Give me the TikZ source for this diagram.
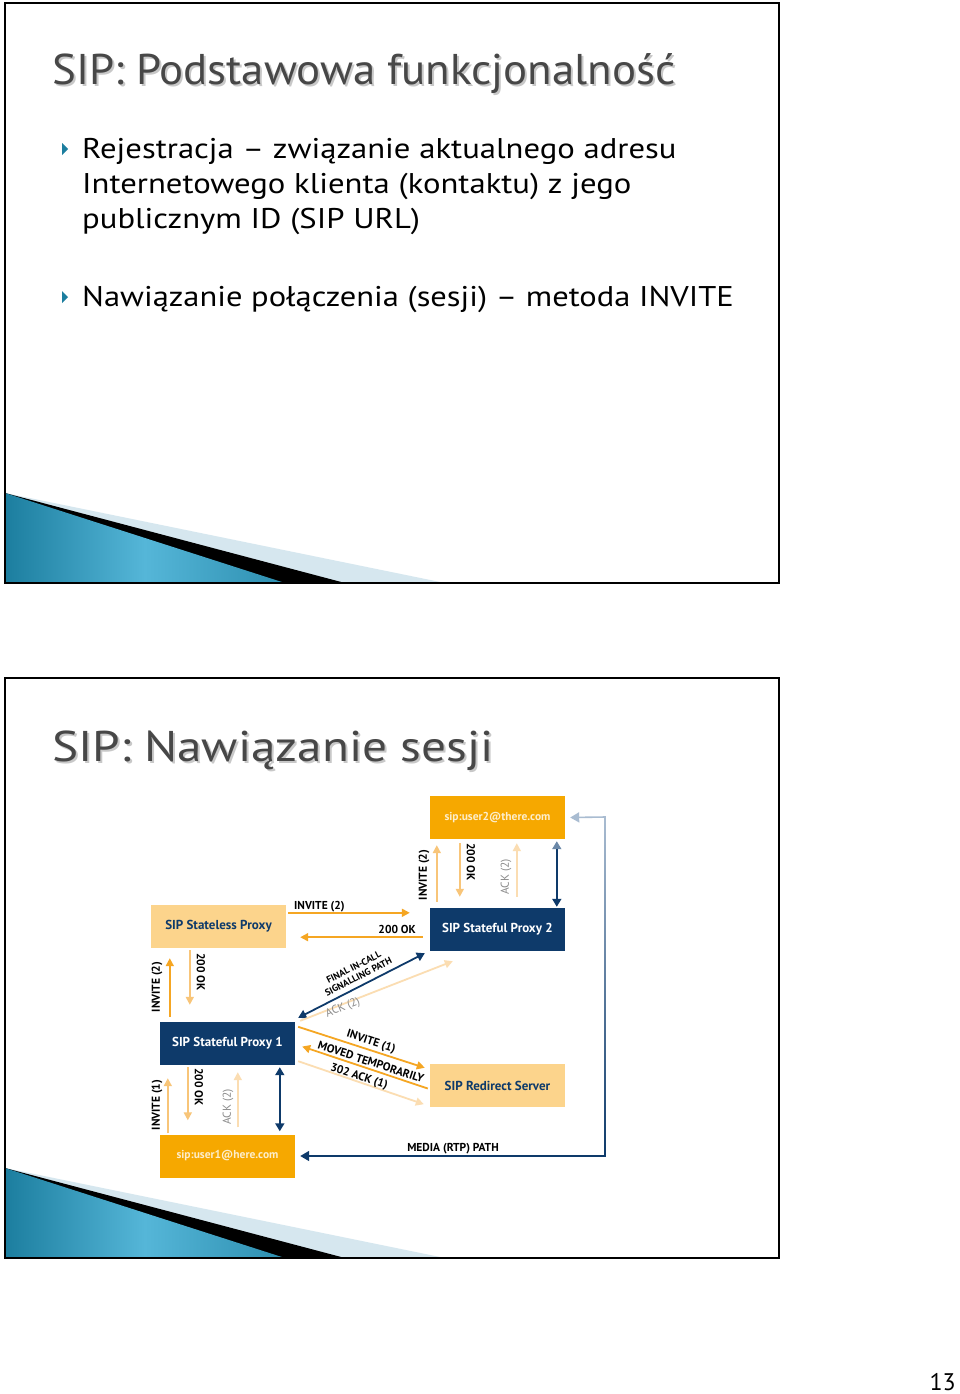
\documentclass[tikz,border=0pt]{standalone}
\usepackage{fontspec}
\setmainfont{PT Sans}
\usetikzlibrary{arrows.meta,positioning,calc}

\definecolor{sipnavy}{HTML}{0E3A6A}
\definecolor{siporange}{HTML}{F6A800}
\definecolor{siplight}{HTML}{FCD48C}
\definecolor{sipline}{HTML}{F5A623}
\definecolor{sipmid}{HTML}{F8C579}
\definecolor{sippale}{HTML}{FBDDB2}
\definecolor{titlegrey}{HTML}{474747}
\definecolor{shadowgrey}{HTML}{C8C8C8}
\definecolor{slideteal}{HTML}{1C7E9F}
\definecolor{slidelight}{HTML}{55B6D8}
\definecolor{slidepale}{HTML}{D6E7EF}
\definecolor{mediapale}{HTML}{A9BCD1}
\definecolor{labelgrey}{HTML}{8A8A8A}

\tikzset{
  x=1pt, y=-1pt,
  slideframe/.style={draw=black, line width=2.2pt},
  slidetitle/.style={anchor=base west, inner sep=0pt, font=\fontsize{43}{43}\selectfont, text=titlegrey},
  titleshadow/.style={slidetitle, text=shadowgrey},
  bodyline/.style={anchor=base west, inner sep=0pt, font=\fontsize{28.5}{35}\selectfont},
  sipbox/.style={minimum width=135pt, minimum height=43pt, inner sep=0pt, font=\bfseries\fontsize{13}{14}\selectfont},
  navybox/.style={sipbox, fill=sipnavy, text=white},
  userbox/.style={sipbox, fill=siporange, text=white!80!siporange, font=\bfseries\fontsize{11.5}{13}\selectfont},
  serverbox/.style={sipbox, fill=siplight, text=sipnavy},
  msg/.style={draw=sipline, line width=1.8pt, -{Triangle[length=8pt,width=8pt]}},
  msglight/.style={msg, draw=sipmid},
  msgpale/.style={msg, draw=sippale},
  navylink/.style={draw=sipnavy, line width=1.8pt, {Triangle[length=8pt,width=9pt]}-{Triangle[length=8pt,width=9pt]}},
  lbl/.style={inner sep=0pt, font=\bfseries\fontsize{11.5}{12}\selectfont},
  lblgrey/.style={inner sep=0pt, font=\fontsize{11.5}{12}\selectfont, text=labelgrey}
}

\newcommand{\slidecorner}[1]{%
  \fill[slidepale] (5,#1) -- (445,#1+90) -- (5,#1+90) -- cycle;
  \fill[black] (5,#1) -- (345,#1+90) -- (5,#1+90) -- cycle;
  \shade[left color=slideteal, right color=slideteal!70!slidelight, middle color=slidelight]
    (5,#1) -- (285,#1+90) -- (5,#1+90) -- cycle;
}
\newcommand{\wide}[2]{\scalebox{#1}[1]{#2}}

\begin{document}
\begin{tikzpicture}
\useasboundingbox (0,0) rectangle (960,1394);
\fill[white] (0,0) rectangle (960,1394);

% slide 1
\slidecorner{493}
\draw[slideframe] (5,3) rectangle (779,583);
\node[titleshadow] (title1s) at (54,87) {\wide{1.044}{SIP: Podstawowa funkcjonalność}};
\node[slidetitle] (title1) at (52,85) {\wide{1.044}{SIP: Podstawowa funkcjonalność}};
\fill[slideteal] (62,143) -- (68,149) -- (62,155) -- cycle;
\node[bodyline] (reg1) at (82,158) {\wide{1.147}{Rejestracja – związanie aktualnego adresu}};
\node[bodyline] (reg2) at (82,193) {\wide{1.147}{Internetowego klienta (kontaktu) z jego}};
\node[bodyline] (reg3) at (82,228) {\wide{1.147}{publicznym ID (SIP URL)}};
\fill[slideteal] (62,291) -- (68,297) -- (62,303) -- cycle;
\node[bodyline] (inv) at (82,306) {\wide{1.14}{Nawiązanie połączenia (sesji) – metoda INVITE}};

% slide 2
\slidecorner{1168}
\draw[slideframe] (5,678) rectangle (779,1258);
\node[titleshadow] (title2s) at (54,763) {\wide{1.146}{SIP: Nawiązanie sesji}};
\node[slidetitle] (title2) at (52,761) {\wide{1.146}{SIP: Nawiązanie sesji}};

% boxes
\node[userbox] (user2) at (497.5,817.5) {sip:user2@there.com};
\node[serverbox] (stateless) at (218.5,926.5) {SIP Stateless Proxy};
\node[navybox] (sp2) at (497.5,929.5) {SIP Stateful Proxy 2};
\node[navybox] (sp1) at (227.5,1043.5) {SIP Stateful Proxy 1};
\node[serverbox] (redirect) at (497.5,1085.5) {SIP Redirect Server};
\node[userbox] (user1) at (227.5,1156) {sip:user1@here.com};

% stateless <-> proxy 2
\draw[msg] ([shift={(2,8)}]stateless.north east) -- ([shift={(-20,5)}]sp2.north west);
\node[lbl, anchor=south west] (inv2a) at (294,912) {INVITE (2)};
\draw[msg] ([shift={(-7,-14)}]sp2.south west) -- ([shift={(14,-11)}]stateless.south east);
\node[lbl, anchor=south east] (ok2a) at (416,934) {200 OK};

% proxy 2 <-> user2
\draw[msglight] ([shift={(7,-6)}]sp2.north west) -- ([shift={(7,6)}]user2.south west);
\node[lbl, rotate=90] (inv2b) at (424,875) {INVITE (2)};
\draw[msglight] ([shift={(30,4)}]user2.south west) -- ([shift={(30,-11)}]sp2.north west);
\node[lbl, rotate=-90] (ok2b) at (471,862) {200 OK};
\draw[msgpale] ([shift={(87,-11)}]sp2.north west) -- ([shift={(87,4)}]user2.south west);
\node[lblgrey, rotate=90] (ack2b) at (506,877) {ACK (2)};
\draw[navylink, {Triangle[length=8pt,width=9pt,color=mediapale!60!sipnavy]}-{Triangle[length=8pt,width=9pt]}]
  ([shift={(127,2)}]user2.south west) -- ([shift={(127,-1)}]sp2.north west);

% stateless <-> proxy 1
\draw[msg] ([shift={(10,-5)}]sp1.north west) -- ([shift={(19,10)}]stateless.south west);
\node[lbl, rotate=90] (inv2c) at (157,987) {INVITE (2)};
\draw[msglight] ([shift={(39,2)}]stateless.south west) -- ([shift={(30,-17)}]sp1.north west);
\node[lbl, rotate=-90] (ok2c) at (201,972) {200 OK};

% proxy 1 <-> user1
\draw[msglight] ([shift={(8,-1)}]user1.north west) -- ([shift={(8,13)}]sp1.south west);
\node[lbl, rotate=90] (inv1) at (157,1105) {INVITE (1)};
\draw[msglight] ([shift={(28,2)}]sp1.south west) -- ([shift={(28,-14)}]user1.north west);
\node[lbl, rotate=-90] (ok1) at (199,1087) {200 OK};
\draw[msgpale] ([shift={(78,-7)}]user1.north west) -- ([shift={(78,7)}]sp1.south west);
\node[lblgrey, rotate=90] (ack2c) at (228,1107) {ACK (2)};
\draw[navylink] ([shift={(120,2)}]sp1.south west) -- ([shift={(120,-3)}]user1.north west);

% proxy 1 <-> proxy 2
\draw[navylink] ([shift={(3,-4)}]sp1.north east) -- ([shift={(-5,2)}]sp2.south west);
\node[lbl, rotate=27, align=center, font=\bfseries\fontsize{9.5}{10.5}\selectfont] (final) at (356,972) {FINAL IN-CALL\\SIGNALLING PATH};
\draw[msgpale] ([shift={(5,-1)}]sp1.north east) -- ([shift={(23,10)}]sp2.south west);
\node[lblgrey, rotate=22] (ack2d) at (343,1008) {ACK (2)};

% proxy 1 <-> redirect server
\draw[msg] ([shift={(3,5)}]sp1.north east) -- ([shift={(-5,4)}]redirect.north west);
\node[lbl, rotate=-18] (inv1b) at (371,1042) {INVITE (1)};
\draw[msg] ([shift={(-2,3)}]redirect.west) -- ([shift={(7,3)}]sp1.east);
\node[lbl, rotate=-18] (moved) at (371,1062) {MOVED TEMPORARILY};
\draw[msgpale] ([shift={(3,-4)}]sp1.south east) -- ([shift={(-6,-3)}]redirect.south west);
\node[lbl, rotate=-18] (ack1) at (359,1077) {302 ACK (1)};

% media path
\coordinate (mbot) at (605,1156);
\coordinate (mtop) at (605,817);
\shade[top color=mediapale, bottom color=sipnavy] ([xshift=-0.8]mtop) rectangle ([xshift=0.8]mbot);
\draw[draw=sipnavy, line width=1.6pt, -{Triangle[length=9pt,width=10pt]}] ([xshift=0.8]mbot) -- ([xshift=5]user1.east);
\draw[draw=mediapale, line width=1.6pt, -{Triangle[length=9pt,width=10pt]}] ([xshift=0.8]mtop) -- ([xshift=5]user2.east);
\node[lbl, anchor=south] (media) at (453,1154) {MEDIA (RTP) PATH};

\node[anchor=base east, inner sep=0pt, font=\fontsize{24}{24}\selectfont] (page) at (956,1390) {13};
\end{tikzpicture}
\end{document}
